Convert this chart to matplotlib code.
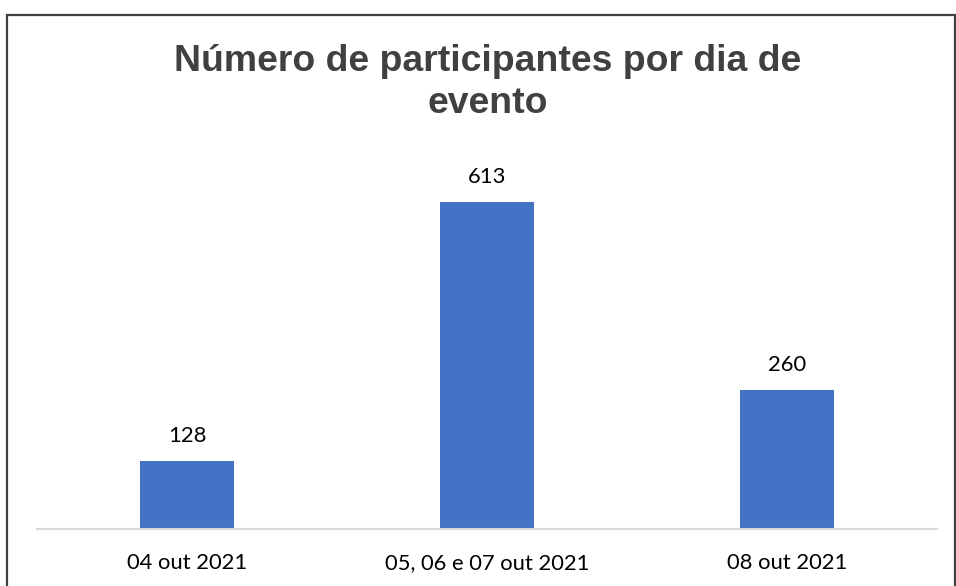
import matplotlib.pyplot as plt
from matplotlib.patches import Rectangle

# Data
categories = ['04 out 2021', '05, 06 e 07 out 2021', '08 out 2021']
participants = [128, 613, 260]

fig = plt.figure(figsize=(9.56, 5.86), dpi=100)

# outer frame (chart border, cut off at the bottom)
fig.patches.append(Rectangle((7 / 956, -0.05), 948 / 956, 1.05 - 15 / 586,
                             transform=fig.transFigure, fill=False,
                             edgecolor='#404040', linewidth=1.6))

ax = fig.add_axes([37 / 956, 57 / 586, 900 / 956, 373.5 / 586])
x = range(len(categories))
bars = ax.bar(x, participants, width=0.313, color='#4472C4', zorder=2)

ax.set_xlim(-0.5, 2.5)
ax.set_ylim(0, 700)
ax.set_yticks([])
ax.set_xticks(list(x))
ax.set_xticklabels(categories, fontname='Lato', fontsize=15.8, color='black')
ax.tick_params(axis='x', length=0, pad=17.5)
for side in ['top', 'right', 'left']:
    ax.spines[side].set_visible(False)
ax.spines['bottom'].set_color('#D9D9D9')
ax.spines['bottom'].set_linewidth(1.5)

for b, v in zip(bars, participants):
    ax.annotate(str(v), (b.get_x() + b.get_width() / 2, v),
                xytext=(0, 13.7), textcoords='offset points',
                ha='center', va='baseline', fontname='Lato',
                fontsize=15.8, color='black')

# title: baseline of the last line at y=113 px
fig.text(488 / 956, 1 - 113 / 586, 'Número de participantes por dia de\nevento',
         ha='center', va='baseline', fontname='Liberation Sans',
         fontweight='bold', fontsize=26.9, color='#404040', linespacing=1.26,
         multialignment='center')

fig.savefig('out.png', dpi=100)
